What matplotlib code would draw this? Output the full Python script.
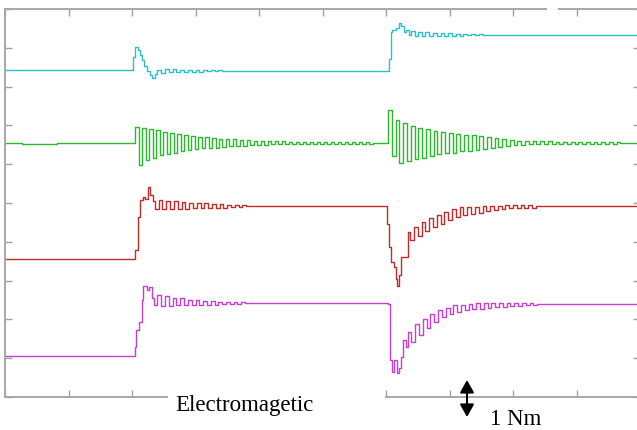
import matplotlib
matplotlib.use("Agg")
import matplotlib.pyplot as plt
from matplotlib.patches import Rectangle

# time in scope divisions (0..10), level in vertical divisions (0..10)
cyan_t = [0, 2.02, 2.04, 2.09, 2.12, 2.15, 2.19, 2.23, 2.28, 2.32, 2.36, 2.40,
          2.46, 2.52, 2.58, 2.64, 2.70, 2.76, 2.82, 2.88, 2.94, 3.00, 3.06, 3.12,
          3.18, 3.24, 3.30, 3.36, 3.42,
          6.05, 6.08, 6.10, 6.15, 6.20, 6.24, 6.28, 6.32, 6.36, 6.40, 6.45, 6.50,
          6.56, 6.62, 6.68, 6.74, 6.80, 6.86, 6.92, 6.98, 7.04, 7.10, 7.16, 7.22,
          7.28, 7.34, 7.40, 7.46, 7.52, 7.58, 10]
cyan_v = [8.42, 8.75, 9.03, 8.95, 8.82, 8.68, 8.52, 8.40, 8.30, 8.22, 8.32, 8.44,
          8.36, 8.45, 8.37, 8.45, 8.37, 8.44, 8.38, 8.44, 8.38, 8.44, 8.38, 8.43,
          8.39, 8.43, 8.39, 8.43, 8.41,
          8.70, 9.42, 9.46, 9.50, 9.65, 9.55, 9.40, 9.45, 9.32, 9.44, 9.30, 9.42,
          9.30, 9.40, 9.30, 9.39, 9.31, 9.38, 9.31, 9.37, 9.31, 9.36, 9.31, 9.36,
          9.32, 9.35, 9.32, 9.35, 9.33, 9.33, 9.33]

green_t = [0, 0.27, 0.82,
           2.05, 2.105, 2.16, 2.215, 2.27, 2.325, 2.38, 2.435, 2.49, 2.545,
           2.60, 2.655, 2.71, 2.765, 2.82, 2.875, 2.93, 2.985, 3.04, 3.095,
           3.15, 3.205, 3.26, 3.315, 3.37, 3.425, 3.48, 3.535, 3.59, 3.645,
           3.70, 3.755, 3.81, 3.865, 3.92, 3.975, 4.03, 4.085,
           4.14, 4.195, 4.25, 4.305, 4.36, 4.415, 4.47, 4.525, 4.58, 4.635,
           4.69, 4.745, 4.80, 4.855, 4.91, 4.965, 5.02, 5.075, 5.13, 5.185,
           5.24, 5.295, 5.35, 5.405, 5.46, 5.515, 5.57, 5.625, 5.68, 5.735, 5.79,
           6.03, 6.09, 6.15, 6.21, 6.27, 6.33, 6.39, 6.45, 6.51, 6.57,
           6.63, 6.69, 6.75, 6.81, 6.87, 6.93, 6.99, 7.05, 7.11, 7.17,
           7.23, 7.29, 7.35, 7.41, 7.47, 7.53, 7.59, 7.65, 7.71, 7.77,
           7.83, 7.89, 7.95, 8.01, 8.07, 8.13,
           8.19, 8.25, 8.31, 8.37, 8.43, 8.49, 8.55, 8.61, 8.67, 8.73,
           8.79, 8.85, 8.91, 8.97, 9.03, 9.09, 9.15, 9.21, 9.27, 9.33,
           9.39, 9.45, 9.51, 9.57, 9.63, 9.69, 10]
green_v = [6.55, 6.52, 6.55,
           6.96, 5.98, 6.93, 6.10, 6.91, 6.17, 6.87, 6.23, 6.83, 6.27,
           6.80, 6.30, 6.77, 6.34, 6.74, 6.37, 6.72, 6.39, 6.70, 6.41,
           6.69, 6.42, 6.67, 6.43, 6.66, 6.45, 6.65, 6.46, 6.64, 6.47,
           6.63, 6.48, 6.62, 6.49, 6.61, 6.49, 6.60, 6.50,
           6.59, 6.51, 6.59, 6.51, 6.59, 6.51, 6.58, 6.52, 6.58, 6.52,
           6.58, 6.52, 6.58, 6.52, 6.58, 6.52, 6.58, 6.52, 6.58, 6.52,
           6.58, 6.52, 6.58, 6.52, 6.58, 6.52, 6.58, 6.52, 6.58, 6.52, 6.55,
           7.40, 6.20, 7.15, 6.03, 7.05, 6.08, 6.99, 6.13, 6.94, 6.17,
           6.90, 6.21, 6.86, 6.25, 6.83, 6.28, 6.80, 6.30, 6.78, 6.33,
           6.76, 6.35, 6.74, 6.37, 6.72, 6.39, 6.69, 6.42, 6.67, 6.45,
           6.64, 6.47, 6.62, 6.49, 6.61, 6.50,
           6.59, 6.51, 6.59, 6.51, 6.59, 6.51, 6.59, 6.51, 6.58, 6.52,
           6.58, 6.52, 6.58, 6.52, 6.58, 6.52, 6.58, 6.52, 6.58, 6.52,
           6.58, 6.52, 6.58, 6.52, 6.58, 6.55, 6.55]

red_t = [0, 2.05, 2.09, 2.13, 2.17, 2.21, 2.25, 2.29, 2.33,
         2.36, 2.42, 2.48, 2.54, 2.60, 2.66, 2.72, 2.78, 2.84, 2.90,
         2.96, 3.02, 3.08, 3.14, 3.20, 3.26, 3.32, 3.38, 3.44, 3.50,
         3.56, 3.62, 3.68, 3.74, 3.80,
         6.02, 6.05, 6.08, 6.12, 6.15, 6.17, 6.21, 6.24, 6.31, 6.34, 6.38,
         6.44, 6.50, 6.56, 6.62, 6.68, 6.74, 6.80, 6.86, 6.92, 6.98,
         7.04, 7.10, 7.16, 7.22, 7.28, 7.34, 7.40, 7.46, 7.52, 7.58,
         7.64, 7.70, 7.76, 7.82, 7.88, 7.94, 8.00, 8.06, 8.12, 8.18,
         8.24, 8.30, 8.36, 8.42, 10]
red_v = [3.55, 3.78, 4.65, 5.08, 5.15, 5.10, 5.42, 5.20, 5.05,
         4.85, 5.08, 4.84, 5.06, 4.84, 5.04, 4.84, 5.02, 4.85, 5.01,
         4.86, 5.00, 4.87, 4.99, 4.87, 4.98, 4.88, 4.97, 4.88, 4.96,
         4.89, 4.95, 4.89, 4.94, 4.91,
         4.47, 3.87, 3.49, 3.36, 3.05, 2.87, 3.14, 3.62, 3.62, 4.26, 4.05,
         4.37, 4.14, 4.50, 4.27, 4.61, 4.39, 4.69, 4.47, 4.76, 4.56,
         4.84, 4.65, 4.89, 4.69, 4.89, 4.72, 4.90, 4.75, 4.91, 4.79,
         4.92, 4.81, 4.93, 4.84, 4.95, 4.86, 4.95, 4.87, 4.94, 4.87,
         4.94, 4.88, 4.93, 4.91, 4.91]

magenta_t = [0, 2.04, 2.07, 2.11, 2.15, 2.18, 2.23, 2.27, 2.31,
             2.35, 2.40, 2.46, 2.52, 2.58, 2.64, 2.70, 2.76, 2.82, 2.88,
             2.94, 3.00, 3.06, 3.12, 3.18, 3.24, 3.30, 3.36, 3.42, 3.48,
             3.54, 3.60, 3.66, 3.72, 3.78,
             6.03, 6.06, 6.09, 6.13, 6.17, 6.21, 6.24, 6.27, 6.32, 6.35,
             6.40, 6.46, 6.52, 6.58, 6.64, 6.70, 6.76, 6.82, 6.88, 6.94,
             7.00, 7.06, 7.12, 7.18, 7.24, 7.30, 7.36, 7.42, 7.48, 7.54,
             7.60, 7.66, 7.72, 7.78, 7.84, 7.90, 7.96, 8.02, 8.08, 8.14,
             8.20, 8.26, 8.32, 8.38, 10]
magenta_v = [1.06, 1.30, 1.73, 1.94, 2.50, 2.86, 2.76, 2.84, 2.55,
             2.36, 2.63, 2.34, 2.60, 2.35, 2.56, 2.36, 2.54, 2.37, 2.51,
             2.37, 2.50, 2.38, 2.48, 2.38, 2.47, 2.38, 2.46, 2.39, 2.45,
             2.39, 2.44, 2.39, 2.44, 2.41,
             2.40, 0.95, 0.65, 0.95, 0.61, 0.74, 1.04, 1.47, 1.30, 1.68,
             1.42, 1.87, 1.61, 2.02, 1.79, 2.15, 1.94, 2.24, 2.05, 2.30,
             2.14, 2.36, 2.20, 2.38, 2.23, 2.40, 2.26, 2.41, 2.28, 2.41,
             2.29, 2.42, 2.31, 2.42, 2.33, 2.42, 2.34, 2.42, 2.35, 2.42,
             2.36, 2.42, 2.37, 2.40, 2.40]

traces = [(cyan_t, cyan_v, "#2bbfc9"),
          (green_t, green_v, "#2cb82c"),
          (red_t, red_v, "#bd2b2b"),
          (magenta_t, magenta_v, "#c63fd3")]

W, H = 637, 430
fig = plt.figure(figsize=(W / 100, H / 100), dpi=100)
ax = fig.add_axes([5 / W, 33 / H, 635 / W, 388 / H])

for t, v, c in traces:
    ax.plot(t, v, color=c, lw=1.0, drawstyle="steps-post")

ax.set_xlim(0, 10)
ax.set_ylim(0, 10)
ax.set_xticks(range(11))
ax.set_yticks(range(11))
ax.tick_params(direction="in", length=5, width=1, color="#a0a0a0",
               top=True, right=True, labelleft=False, labelbottom=False)
for s in ax.spines.values():
    s.set_color("#a8a8a8")
    s.set_linewidth(1.4)

# white masks over parts of the frame, as in the original scan
fig.add_artist(Rectangle((168 / W, 0), (385 - 168) / W, 44 / H,
                         transform=fig.transFigure, facecolor="white",
                         edgecolor="none", zorder=3))
fig.add_artist(Rectangle((547 / W, (H - 14) / H), 11 / W, 14 / H,
                         transform=fig.transFigure, facecolor="white",
                         edgecolor="none", zorder=3))

fig.text(244 / W, (H - 411) / H, "Electromagetic", ha="center", va="baseline",
         fontsize=16.5, family="Liberation Serif", zorder=4)
fig.text(490 / W, (H - 425) / H, "1 Nm", ha="left", va="baseline",
         fontsize=16.5, family="Liberation Serif", zorder=4)

ax.annotate("", xy=(467, H - 417), xytext=(467, H - 380),
            xycoords="figure pixels", textcoords="figure pixels",
            arrowprops=dict(arrowstyle="<|-|>,head_length=0.75,head_width=0.42",
                            color="black", lw=1.5, shrinkA=0, shrinkB=0),
            annotation_clip=False)

fig.savefig("out.png", dpi=100)
